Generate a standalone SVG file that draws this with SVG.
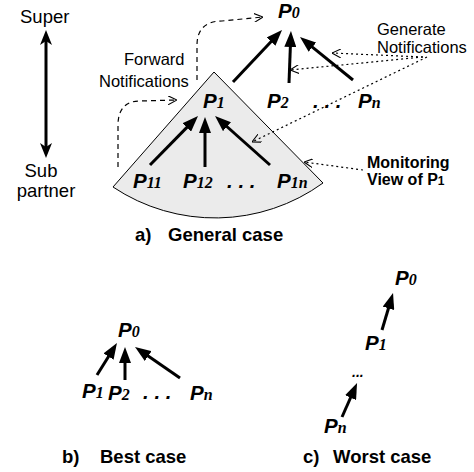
<svg xmlns="http://www.w3.org/2000/svg" width="474" height="472" viewBox="0 0 474 472">
<style>
.lbl{font-family:"Liberation Sans",Arial,sans-serif;font-size:16.5px;fill:#000}
.blbl{font-family:"Liberation Sans",Arial,sans-serif;font-size:16px;font-weight:bold;fill:#000}
.cap{font-family:"Liberation Sans",Arial,sans-serif;font-size:18.5px;font-weight:bold;fill:#000}
.p{font-family:"Liberation Sans",Arial,sans-serif;font-size:20.5px;font-weight:bold;font-style:italic;fill:#000}
.s{font-family:"Liberation Serif","Times New Roman",serif;font-size:16px;font-weight:bold;font-style:italic}
.arr{stroke:#000;stroke-width:3;fill:none;marker-end:url(#head)}
.dash{stroke:#000;stroke-width:1.2;fill:none;stroke-dasharray:5,4;marker-end:url(#open)}
.dot{stroke:#000;stroke-width:1.2;fill:none;stroke-dasharray:2,3;marker-end:url(#open)}
</style>
<defs>
<marker id="head" viewBox="0 0 16 12" refX="4" refY="6" markerWidth="16" markerHeight="12" markerUnits="userSpaceOnUse" orient="auto">
<path d="M0,0 L16,6 L0,12 z" fill="#000"/>
</marker>
<marker id="stealth" viewBox="0 0 15 12" refX="4" refY="6" markerWidth="15" markerHeight="12" markerUnits="userSpaceOnUse" orient="auto-start-reverse">
<path d="M0,0 L15,6 L0,12 L4,6 z" fill="#000"/>
</marker>
<marker id="open" viewBox="0 0 9 9" refX="9" refY="4.5" markerWidth="9" markerHeight="9" markerUnits="userSpaceOnUse" orient="auto">
<path d="M0,0 L9,4.5 L0,9" fill="none" stroke="#000" stroke-width="1.1"/>
</marker>
</defs>

<g id="axis">
<text class="lbl" x="20" y="23" style="font-size:18.5px">Super</text>
<line x1="46" y1="41" x2="46" y2="147" stroke="#000" stroke-width="3" marker-start="url(#stealth)" marker-end="url(#stealth)"/>
<text class="lbl" x="41" y="177" text-anchor="middle" style="font-size:18.5px">Sub</text>
<text class="lbl" x="46" y="197" text-anchor="middle" style="font-size:18.5px">partner</text>
</g>

<g id="fan">
<path d="M214,72 L323,183 A184,184 0 0 1 113,187 Z" fill="#ebebeb" stroke="#000" stroke-width="1"/>
</g>

<g id="general-nodes">
<g id="g-P0"><text class="p" x="278" y="18">P<tspan class="s">0</tspan></text></g>
<g id="g-P1"><text class="p" x="203" y="108">P<tspan class="s">1</tspan></text></g>
<g id="g-P2"><text class="p" x="267" y="108">P<tspan class="s">2</tspan></text></g>
<g id="g-dots1"><text class="p" x="313" y="108">. . .</text></g>
<g id="g-Pn"><text class="p" x="358" y="108">P<tspan class="s">n</tspan></text></g>
<g id="g-P11"><text class="p" x="133" y="188">P<tspan class="s">11</tspan></text></g>
<g id="g-P12"><text class="p" x="183" y="188">P<tspan class="s">12</tspan></text></g>
<g id="g-dots2"><text class="p" x="227" y="188">. . .</text></g>
<g id="g-P1n"><text class="p" x="277" y="188">P<tspan class="s">1n</tspan></text></g>
</g>

<g id="labels">
<text class="lbl" x="124" y="65">Forward</text>
<text class="lbl" x="99" y="87">Notifications</text>
<text class="lbl" x="377" y="35">Generate</text>
<text class="lbl" x="377" y="53">Notifications</text>
<text class="blbl" x="367" y="168">Monitoring</text>
<text class="blbl" x="367" y="185">View of P<tspan style="font-size:12px">1</tspan></text>
<text class="cap" x="135" y="241">a)<tspan x="168">General case</tspan></text>
</g>

<g id="best-nodes">
<g id="b-P0"><text class="p" x="118" y="337">P<tspan class="s">0</tspan></text></g>
<g id="b-P1"><text class="p" x="82" y="398">P<tspan class="s">1</tspan></text></g>
<g id="b-P2"><text class="p" x="108" y="400">P<tspan class="s">2</tspan></text></g>
<g id="b-dots"><text class="p" x="143" y="399">. . .</text></g>
<g id="b-Pn"><text class="p" x="190" y="400">P<tspan class="s">n</tspan></text></g>
<text class="cap" x="62" y="463">b)<tspan x="100">Best case</tspan></text>
</g>

<g id="worst-nodes">
<g id="w-P0"><text class="p" x="395" y="285">P<tspan class="s">0</tspan></text></g>
<g id="w-P1"><text class="p" x="365" y="350">P<tspan class="s">1</tspan></text></g>
<g id="w-dots"><text class="p" x="352" y="377" style="font-size:14px">...</text></g>
<g id="w-Pn"><text class="p" x="324" y="433">P<tspan class="s">n</tspan></text></g>
<text class="cap" x="303" y="463">c)<tspan x="333">Worst case</tspan></text>
</g>

<g id="connectors">
<line class="arr" x1="150" y1="165" x2="189.6" y2="124.6"/>
<line class="arr" x1="205" y1="167" x2="205" y2="129"/>
<line class="arr" x1="270" y1="165" x2="224" y2="124"/>
<line class="arr" x1="233" y1="82" x2="273.8" y2="38.7"/>
<line class="arr" x1="289" y1="83" x2="290.5" y2="43"/>
<line class="arr" x1="353" y1="80" x2="309.3" y2="44.6"/>
<line class="arr" x1="97" y1="375" x2="110.6" y2="353.2"/>
<line class="arr" x1="125" y1="380" x2="125" y2="359"/>
<line class="arr" x1="180" y1="378" x2="144.9" y2="353.8"/>
<line class="arr" x1="382" y1="330" x2="389.6" y2="304.5"/>
<line class="arr" x1="342" y1="417" x2="352.2" y2="394"/>
<path class="dash" d="M197,80 L197,45 C197,30 205,21 222,21 L263,17"/>
<path class="dash" d="M118,167 L118,125 C118,110 125,101 140,101 L177,100"/>
<path class="dot" d="M423,57 L332,53"/>
<path class="dot" d="M423,57 L290,70"/>
<path class="dot" d="M427,57 L252,142"/>
<path class="dot" d="M363,170 L304,162"/>
</g>
</svg>
